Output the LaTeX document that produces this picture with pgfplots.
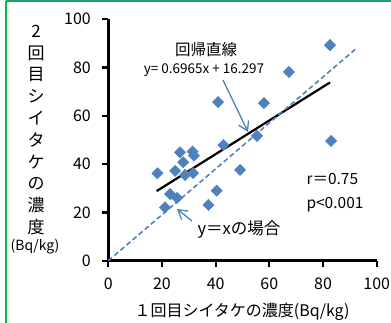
\documentclass[border=0pt]{standalone}
\usepackage{fontspec}
\setmainfont{Noto Sans CJK JP}
\usepackage{pgfplots}
\pgfplotsset{compat=1.18}
\usetikzlibrary{arrows.meta}
\definecolor{exblue}{HTML}{4F81BD}
\definecolor{gline}{HTML}{00C040}
\definecolor{tline}{HTML}{1E9E6A}
\begin{document}
\begin{tikzpicture}[x=1pt,y=1pt]
\useasboundingbox (0,0) rectangle (391,323);
\draw[gline, line width=2pt] (6,0) -- (6,322);
\draw[tline, line width=2pt] (6,322) -- (391,322);
\begin{axis}[
  at={(108.3pt,62.3pt)}, anchor=south west,
  scale only axis, width=268.4pt, height=241.4pt,
  xmin=0, xmax=100, ymin=0, ymax=100,
  axis lines*=left,
  axis line style={line width=2.4pt, black},
  xtick={0,20,...,100}, ytick={0,20,...,100},
  tick align=outside, major tick length=6pt,
  tick style={line width=2.2pt, black},
  /pgf/number format/assume math mode=true,
  ticklabel style={font=\fontsize{16}{16}\selectfont},
  yticklabel style={xshift=-8pt},
  xticklabel style={yshift=-8pt},
  clip=false,
]
\addplot[only marks, mark=square*, mark size=4pt, mark options={rotate=45, fill=exblue, draw=exblue}] coordinates {
(82.6,89.3) (67.3,78.2) (40.9,65.7) (58.0,65.3) (83.0,49.6) (55.4,51.7)
(42.9,47.9) (26.7,44.9) (31.4,45.2) (31.9,43.5) (27.9,40.8) (18.3,36.2)
(24.9,37.2) (28.6,35.5) (31.6,36.3) (49.1,37.6) (23.0,27.6) (25.6,26.0)
(40.4,29.0) (21.1,22.1) (37.3,23.1)
};
\addplot[black, line width=2.2pt] coordinates {(18.0,28.83) (82.6,73.83)};
\addplot[exblue, line width=1.6pt, dash pattern=on 5pt off 3pt] coordinates {(0,0) (92.5,88.0)};
\end{axis}
% annotations (pixel-based positions)
\node[font=\fontsize{15.5}{15.5}\selectfont] at (206,273) {回帰直線};
\node[font=\fontsize{13.5}{13.5}\selectfont] at (204,253) {y= 0.6965x + 16.297};
\draw[exblue, line width=1.3pt, -{Straight Barb[length=9pt,width=11pt]}] (223,243) -- (248,191);
\node[font=\fontsize{15.5}{15.5}\selectfont, anchor=west] at (303,144) {r＝0.75};
\node[font=\fontsize{15.5}{15.5}\selectfont, anchor=west] at (303,118) {p<0.001};
\node[font=\fontsize{16.5}{16.5}\selectfont, anchor=west] at (194,93) {y＝xの場合};
\draw[exblue, line width=1.3pt, -{Straight Barb[length=9pt,width=11pt]}] (192,102) -- (177,114);
\node[font=\fontsize{17}{21.8}\selectfont, align=center, inner sep=0pt] at (36,193)
  {2\\回\\目\\シ\\イ\\タ\\ケ\\の\\濃\\度};
\node[font=\fontsize{14}{14}\selectfont] at (35,76) {(Bq/kg)};
\node[font=\fontsize{16}{16}\selectfont] at (242,11) {１回目シイタケの濃度(Bq/kg)};
\end{tikzpicture}
\end{document}
